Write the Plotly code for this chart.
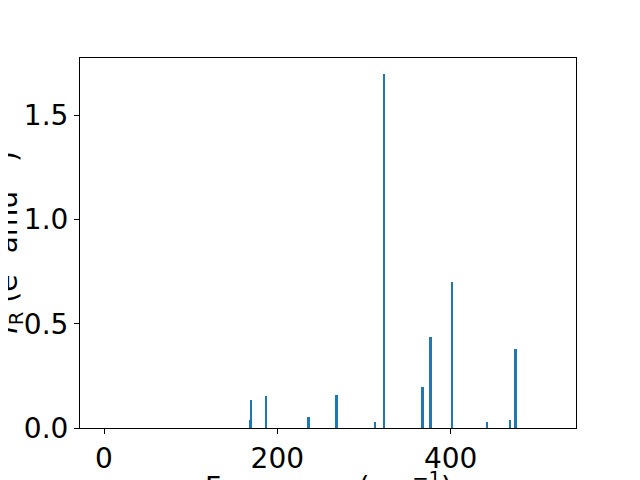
import plotly.graph_objects as go

# Frequencies (cm^-1) and intensities
freqs = [168.9, 170.2, 187.0, 236.2, 268.5, 312.8, 323.5, 367.8, 377.0, 402.0, 442.4, 468.6, 475.1]
intensities = [0.037, 0.134, 0.153, 0.053, 0.159, 0.03, 1.70, 0.197, 0.436, 0.70, 0.03, 0.04, 0.38]

x_ticks = [0, 200, 400]
y_ticks = [0.0, 0.5, 1.0, 1.5]
y_tick_text = ["0.0", "0.5", "1.0", "1.5"]

x_label = "Frequency (cm<sup>−1</sup>)"
y_label = "<i>I</i><sub>R</sub> (e<sup>2</sup> amu<sup>−1</sup>)"

font = dict(family="DejaVu Sans", size=28, color="black")

fig = go.Figure()
fig.add_trace(go.Bar(x=freqs, y=intensities, width=2.0,
                     marker=dict(color="#1f77b4", line=dict(width=0))))

fig.update_layout(
    width=640, height=480,
    margin=dict(l=72, r=72, t=50, b=60),
    paper_bgcolor="white", plot_bgcolor="white",
    showlegend=False,
    font=font,
    bargap=0,
)
fig.update_xaxes(
    range=[-27.7, 544.7], tickvals=x_ticks, ticktext=[str(v) for v in x_ticks],
    showline=True, mirror=True, linecolor="black", linewidth=1,
    ticks="outside", ticklen=5, tickwidth=1, tickcolor="black",
    showgrid=False, zeroline=False, tickfont=font,
    automargin=False,
)
fig.update_yaxes(
    range=[0, 1.775], tickvals=y_ticks, ticktext=y_tick_text,
    showline=True, mirror=True, linecolor="black", linewidth=1,
    ticks="outside", ticklen=5, tickwidth=1, tickcolor="black",
    showgrid=False, zeroline=False, tickfont=font,
    automargin=False,
)

# Axis labels (partly cut off by the canvas edge, as in the reference)
fig.add_annotation(text=x_label, xref="paper", yref="paper", x=0.5, y=0,
                   xanchor="center", yanchor="top", yshift=-37,
                   showarrow=False, font=font)
fig.add_annotation(text=y_label, xref="paper", yref="paper", x=0, y=0.5,
                   xanchor="right", yanchor="middle", xshift=-50, textangle=-90,
                   showarrow=False, font=font)

fig.write_html("out.html")
